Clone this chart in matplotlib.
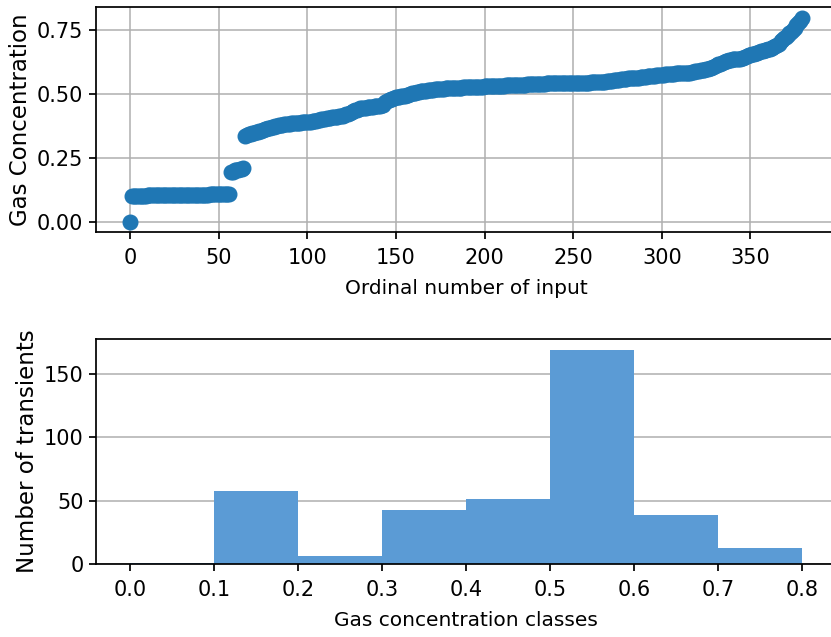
import numpy as np
import matplotlib
matplotlib.use("Agg")
import matplotlib.pyplot as plt

# sorted gas concentrations (index 0..379)
zero_point = [0.0]
low_band = [
    0.101, 0.102, 0.102, 0.102, 0.103, 0.103, 0.103, 0.103, 0.103, 0.104,
    0.104, 0.104, 0.104, 0.104, 0.104, 0.104, 0.105, 0.105, 0.105, 0.105,
    0.105, 0.105, 0.105, 0.105, 0.105, 0.105, 0.105, 0.106, 0.106, 0.106,
    0.106, 0.106, 0.106, 0.106, 0.106, 0.106, 0.107, 0.107, 0.107, 0.107,
    0.107, 0.107, 0.107, 0.107, 0.108, 0.108, 0.108, 0.108, 0.108, 0.108,
    0.109, 0.109, 0.109, 0.110, 0.110, 0.111,
]
step_band = [0.194, 0.197, 0.201, 0.203, 0.204, 0.206, 0.208, 0.210]
mid_band = [
    0.337, 0.340, 0.342, 0.344, 0.346, 0.348, 0.350, 0.352, 0.354, 0.356,
    0.358, 0.361, 0.363, 0.365, 0.368, 0.370, 0.372, 0.374, 0.376, 0.377,
    0.379, 0.380, 0.381, 0.382, 0.383, 0.384, 0.385, 0.385, 0.386, 0.386,
    0.387, 0.387, 0.388, 0.388, 0.389, 0.389, 0.390, 0.391, 0.392, 0.393,
    0.395, 0.396, 0.398,
    0.400, 0.401, 0.402, 0.404, 0.406, 0.407, 0.408, 0.409, 0.410, 0.411,
    0.412, 0.413, 0.415, 0.417, 0.420, 0.423, 0.426, 0.429, 0.432, 0.435,
    0.438, 0.441, 0.443, 0.444, 0.445, 0.446, 0.447, 0.448, 0.449, 0.450,
    0.451, 0.452, 0.453, 0.454, 0.455, 0.456, 0.467, 0.472, 0.475, 0.478,
    0.481, 0.484, 0.486, 0.488, 0.489, 0.490, 0.492, 0.493, 0.494, 0.496,
    0.498,
]
plateau = [
    0.501, 0.502, 0.504, 0.506, 0.507, 0.509, 0.510, 0.511, 0.512, 0.513,
    0.514, 0.515, 0.516, 0.517, 0.518, 0.519, 0.519, 0.520, 0.520, 0.521,
    0.521, 0.522, 0.522, 0.523, 0.523, 0.523, 0.524, 0.524, 0.524, 0.525,
    0.525, 0.525, 0.526, 0.526, 0.526, 0.527, 0.527, 0.527, 0.528, 0.528,
    0.528, 0.529, 0.529, 0.529, 0.530, 0.530, 0.530, 0.531, 0.531, 0.531,
    0.532, 0.532, 0.532, 0.533, 0.533, 0.533, 0.534, 0.534, 0.534, 0.535,
    0.535, 0.535, 0.536, 0.536, 0.536, 0.537, 0.537, 0.537, 0.538, 0.538,
    0.538, 0.538, 0.539, 0.539, 0.539, 0.539, 0.540, 0.540, 0.540, 0.540,
    0.540, 0.541, 0.541, 0.541, 0.541, 0.541, 0.541, 0.541, 0.542, 0.542,
    0.542, 0.542, 0.542, 0.542, 0.542, 0.543, 0.543, 0.543, 0.543, 0.543,
    0.543, 0.544, 0.544, 0.544, 0.545, 0.545, 0.545, 0.546, 0.546, 0.547,
    0.548, 0.549, 0.550, 0.551, 0.552, 0.553, 0.554, 0.555, 0.556, 0.557,
    0.558, 0.559, 0.560, 0.561, 0.561, 0.562, 0.562, 0.563, 0.563, 0.564,
    0.565, 0.566, 0.567, 0.568, 0.569, 0.570, 0.570, 0.571, 0.572, 0.573,
    0.574, 0.575, 0.575, 0.576, 0.576, 0.577, 0.577, 0.578, 0.578, 0.579,
    0.579, 0.580, 0.580, 0.580, 0.581, 0.581, 0.581, 0.582, 0.584, 0.586,
    0.588, 0.589, 0.590, 0.591, 0.592, 0.593, 0.595, 0.597, 0.599,
]
high_band = [
    0.602, 0.605, 0.608, 0.611, 0.614, 0.617, 0.620, 0.623, 0.626, 0.628,
    0.630, 0.632, 0.634, 0.635, 0.635, 0.636, 0.637, 0.638, 0.641, 0.644,
    0.647, 0.650, 0.652, 0.654, 0.656, 0.658, 0.660, 0.662, 0.665, 0.668,
    0.670, 0.672, 0.674, 0.676, 0.679, 0.682, 0.686, 0.690, 0.695,
    0.704, 0.710, 0.716, 0.722, 0.728, 0.735, 0.742, 0.750, 0.758, 0.766,
    0.775, 0.785, 0.797,
]

conc = np.array(zero_point + low_band + step_band + mid_band + plateau + high_band)
bin_edges = [0.0, 0.1, 0.2, 0.3, 0.4, 0.5, 0.6, 0.7, 0.8]
xtick_hist = [0.0, 0.1, 0.2, 0.3, 0.4, 0.5, 0.6, 0.7, 0.8]

s = 1.39  # scale relative to default matplotlib sizes
plt.rcParams.update({
    "font.size": 14.5,
    "xtick.labelsize": 15,
    "ytick.labelsize": 15,
    "axes.linewidth": 0.9 * s,
    "grid.linewidth": 0.8 * s,
    "xtick.major.size": 3.5 * s,
    "ytick.major.size": 3.5 * s,
    "xtick.major.width": 0.9 * s,
    "ytick.major.width": 0.9 * s,
    "xtick.major.pad": 6.5,
    "ytick.major.pad": 4.5,
})

fig = plt.figure(figsize=(8.31, 6.37), dpi=100)
ax1 = fig.add_axes([96.4 / 831, 1 - 232.3 / 637, 739 / 831, 225 / 637])
ax2 = fig.add_axes([96.4 / 831, 1 - 564 / 637, 739 / 831, 224.7 / 637])

ax1.plot(np.arange(len(conc)), conc, "o", color="#1f77b4", ms=10.5)
ax1.set_xlabel("Ordinal number of input", labelpad=8)
ax1.set_ylabel("Gas Concentration", fontsize=16.5, labelpad=3.5)
ax1.set_yticks([0.0, 0.25, 0.5, 0.75])
ax1.grid(True)
ax1.set_axisbelow(True)

ax2.hist(conc, bins=bin_edges, color="#5b9bd5")
ax2.set_xticks(xtick_hist)
ax2.set_xlabel("Gas concentration classes", labelpad=8)
ax2.set_ylabel("Number of transients", fontsize=16.5, labelpad=3.5)
ax2.grid(True, axis="y")
ax2.set_axisbelow(True)

for ax in (ax1, ax2):
    ax.spines["right"].set_visible(False)

fig.savefig("out.png", dpi=100)
